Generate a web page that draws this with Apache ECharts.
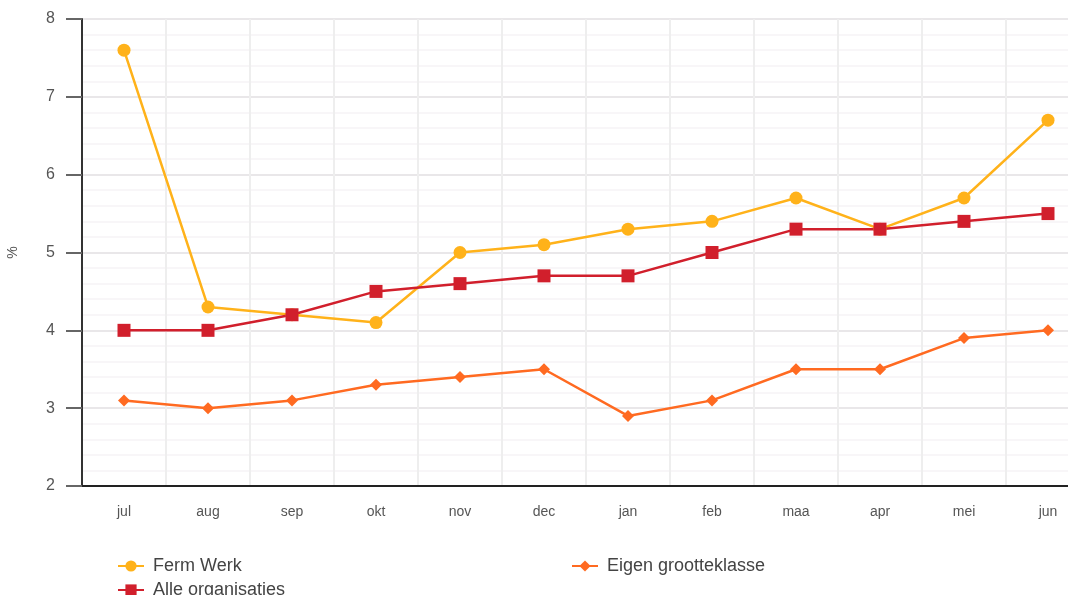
<!DOCTYPE html>
<html>
<head>
<meta charset="utf-8">
<script src="https://cdn.jsdelivr.net/npm/echarts@6/dist/echarts.min.js"></script>
<style>
  html, body { margin: 0; padding: 0; background: #fff; overflow: hidden; }
  #main { width: 1068px; height: 595px; }
</style>
</head>
<body>
<div id="main"></div>
<script>
var months = ['jul','aug','sep','okt','nov','dec','jan','feb','maa','apr','mei','jun'];
var fermWerk = [7.6, 4.3, 4.2, 4.1, 5.0, 5.1, 5.3, 5.4, 5.7, 5.3, 5.7, 6.7];
var eigenKlasse = [3.1, 3.0, 3.1, 3.3, 3.4, 3.5, 2.9, 3.1, 3.5, 3.5, 3.9, 4.0];
var alleOrg = [4.0, 4.0, 4.2, 4.5, 4.6, 4.7, 4.7, 5.0, 5.3, 5.3, 5.4, 5.5];

var chart = echarts.init(document.getElementById('main'));
var legendText = { color: '#444', fontSize: 18, padding: [0, 0, 0, 4], fontFamily: 'Liberation Sans, Arial, sans-serif' };

function legendAt(name, x, y) {
    return { data: [name], left: x, top: y, padding: 0, itemWidth: 26, itemHeight: 14, textStyle: legendText };
}

chart.setOption({
    animation: false,
    grid: { left: 82, top: 19, bottom: 109, width: 1008, outerBoundsMode: 'none', containLabel: false },
    legend: [
        legendAt('Ferm Werk', 117, 557),
        legendAt('Eigen grootteklasse', 571, 557),
        legendAt('Alle organisaties', 117, 581)
    ],
    xAxis: {
        type: 'category',
        data: months,
        boundaryGap: true,
        axisLine: { lineStyle: { color: '#222', width: 2 } },
        axisTick: { show: false },
        axisLabel: { color: '#555', fontSize: 14, margin: 19, fontFamily: 'Liberation Sans, Arial, sans-serif' },
        splitLine: { show: true, lineStyle: { color: '#eeeeee', width: 2 } }
    },
    yAxis: {
        type: 'value',
        min: 2,
        max: 8,
        interval: 1,
        name: '%',
        nameLocation: 'middle',
        nameGap: 62,
        nameTextStyle: { color: '#555', fontSize: 14, fontFamily: 'Liberation Sans, Arial, sans-serif' },
        axisLine: { show: true, lineStyle: { color: '#333', width: 2 } },
        axisTick: { show: true, length: 16, lineStyle: { color: '#666', width: 2 } },
        axisLabel: { color: '#555', fontSize: 16, margin: 27, fontFamily: 'Liberation Sans, Arial, sans-serif' },
        splitLine: { lineStyle: { color: '#e9e7e9', width: 2 } },
        minorTick: { show: false, splitNumber: 5 },
        minorSplitLine: { show: true, lineStyle: { color: '#f6f4f6', width: 1.5 } }
    },
    series: [
        {
            name: 'Ferm Werk',
            type: 'line',
            data: fermWerk,
            color: '#FFB21A',
            symbol: 'circle',
            symbolSize: 13,
            lineStyle: { width: 2.5 }
        },
        {
            name: 'Eigen grootteklasse',
            type: 'line',
            data: eigenKlasse,
            color: '#FF6A21',
            symbol: 'diamond',
            symbolSize: 12,
            lineStyle: { width: 2.5 }
        },
        {
            name: 'Alle organisaties',
            type: 'line',
            data: alleOrg,
            color: '#D11F2C',
            symbol: 'rect',
            symbolSize: 13,
            lineStyle: { width: 2.5 }
        }
    ]
});
</script>
</body>
</html>
